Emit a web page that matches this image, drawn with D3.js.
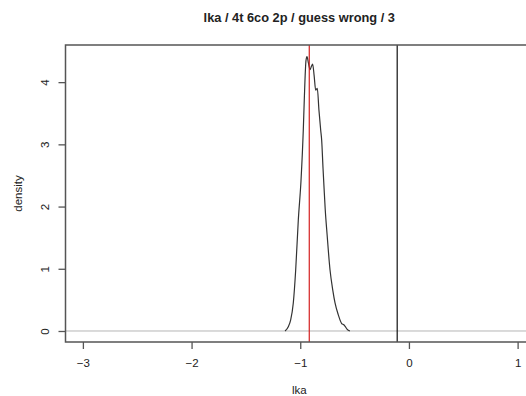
<!DOCTYPE html>
<html>
<head>
<meta charset="utf-8">
<script src="https://cdn.jsdelivr.net/npm/d3@7"></script>
<style>
  body { margin: 0; background: #fff; }
  text { font-family: "Liberation Sans", Arial, sans-serif; fill: #222; }
</style>
</head>
<body>
<div id="chart"></div>
<script>
// Density curve (lka, density)
const lkaValues = [-1.140, -1.110, -1.088, -1.064, -1.042, -1.018, -0.993, -0.972, -0.963, -0.947, -0.938,
    -0.924, -0.910, -0.898, -0.886, -0.872, -0.858, -0.843, -0.828, -0.812, -0.803, -0.790, -0.781, -0.770,
    -0.753, -0.726, -0.700, -0.680, -0.650, -0.619, -0.600, -0.589, -0.570, -0.543];
const densityValues = [0.00, 0.07, 0.18, 0.45, 0.98, 1.78, 2.42, 3.23, 3.71, 4.35, 4.41,
    4.30, 4.20, 4.25, 4.29, 4.10, 3.87, 3.90, 3.55, 3.23, 3.07, 2.60, 2.30, 1.95,
    1.55, 0.98, 0.65, 0.45, 0.26, 0.12, 0.10, 0.08, 0.03, 0.00];
const xTicks = [-3, -2, -1, 0, 1];
const yTicks = [0, 1, 2, 3, 4];
const redLine = -0.917;
const blackLine = -0.108;
const xDomain = [-3.16, 1.16];
const yDomain = [-0.177, 4.597];

const width = 526, height = 396;
const plot = { left: 65.5, right: 535, top: 45, bottom: 342 };

const svg = d3.select("#chart").append("svg")
    .attr("width", width)
    .attr("height", height);

const x = d3.scaleLinear().domain(xDomain).range([plot.left, plot.right]);
const y = d3.scaleLinear().domain(yDomain).range([plot.bottom, plot.top]);

// Title
svg.append("text")
    .attr("x", (plot.left + plot.right) / 2 - 1)
    .attr("y", 22)
    .attr("text-anchor", "middle")
    .style("font-size", "12.8px")
    .style("font-weight", "bold")
    .text("lka / 4t 6co 2p / guess wrong / 3");

// Zero line
svg.append("line")
    .attr("x1", plot.left).attr("x2", plot.right)
    .attr("y1", y(0)).attr("y2", y(0))
    .attr("stroke", "#b5b5b5")
    .attr("stroke-width", 1);

// Density line
const points = lkaValues.map((v, i) => [v, densityValues[i]]);
svg.append("path")
    .datum(points)
    .attr("fill", "none")
    .attr("stroke", "#333")
    .attr("stroke-width", 1.2)
    .attr("d", d3.line().x(d => x(d[0])).y(d => y(d[1])).curve(d3.curveMonotoneX));

// Vertical lines
svg.append("line")
    .attr("x1", x(redLine)).attr("x2", x(redLine))
    .attr("y1", plot.top).attr("y2", plot.bottom)
    .attr("stroke", "#d42020")
    .attr("stroke-width", 1.2);

svg.append("line")
    .attr("x1", x(blackLine)).attr("x2", x(blackLine))
    .attr("y1", plot.top).attr("y2", plot.bottom)
    .attr("stroke", "#111")
    .attr("stroke-width", 1.2);

// Axes
const xAxis = svg.append("g")
    .attr("transform", `translate(0, ${plot.bottom})`)
    .call(d3.axisBottom(x).tickValues(xTicks).tickSize(7).tickPadding(10)
        .tickFormat(d => d < 0 ? "\u2212" + Math.abs(d) : d));
xAxis.select(".domain").remove();
xAxis.selectAll("line").attr("stroke", "#555").attr("stroke-width", 1.3);
xAxis.selectAll("text").style("font-size", "11.5px").attr("fill", "#222")
    .style("font-family", "'Liberation Sans', Arial, sans-serif");

const yAxis = svg.append("g")
    .attr("transform", `translate(${plot.left}, 0)`)
    .call(d3.axisLeft(y).tickValues(yTicks).tickSize(7).tickPadding(0).tickFormat(d3.format("d")));
yAxis.select(".domain").remove();
yAxis.selectAll("line").attr("stroke", "#555").attr("stroke-width", 1.3);
yAxis.selectAll("text")
    .style("font-size", "11.5px")
    .attr("fill", "#222")
    .style("font-family", "'Liberation Sans', Arial, sans-serif")
    .attr("text-anchor", "middle")
    .attr("x", 0).attr("dy", 0)
    .attr("transform", "translate(-21, 0) rotate(-90)")
    .attr("y", 4);

// Box
svg.append("rect")
    .attr("x", plot.left).attr("y", plot.top)
    .attr("width", plot.right - plot.left)
    .attr("height", plot.bottom - plot.top)
    .attr("fill", "none")
    .attr("stroke", "#555")
    .attr("stroke-width", 1.5);

// Axis labels
svg.append("text")
    .attr("x", (plot.left + plot.right) / 2 - 1)
    .attr("y", 394)
    .attr("text-anchor", "middle")
    .style("font-size", "11.5px")
    .text("lka");

svg.append("text")
    .attr("transform", `translate(22, ${(plot.top + plot.bottom) / 2}) rotate(-90)`)
    .attr("text-anchor", "middle")
    .style("font-size", "11.5px")
    .text("density");
</script>
</body>
</html>
